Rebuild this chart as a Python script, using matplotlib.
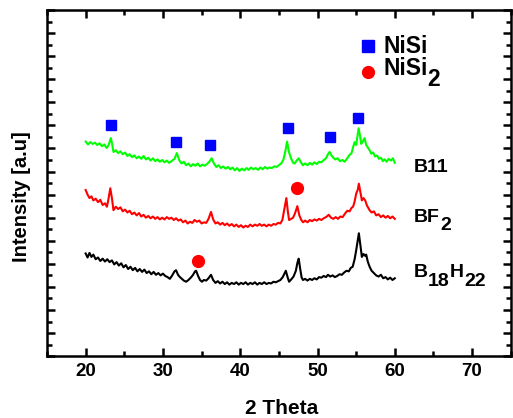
import matplotlib.pyplot as plt
from matplotlib import transforms
from matplotlib.ticker import MultipleLocator

plt.rcParams['font.family'] = ['Liberation Sans', 'DejaVu Sans']
plt.rcParams['font.weight'] = 'bold'

# 2 theta / intensity (arbitrary units)
b11_x = [20.0, 20.3, 20.6, 20.9, 21.2, 21.5, 21.8, 22.1, 22.4, 22.7, 22.95, 23.1, 23.26, 23.45,
         23.6, 23.9, 24.2, 24.5, 24.8, 25.1, 25.4, 25.7, 26.0, 26.3, 26.6, 26.9, 27.2, 27.5,
         27.8, 28.1, 28.4, 28.7, 29.0, 29.3, 29.6, 29.9, 30.2, 30.5, 30.8, 31.1, 31.5, 31.8,
         32.1, 32.4, 32.7, 33.0, 33.3, 33.6, 33.9, 34.2, 34.5, 34.8, 35.1, 35.4, 35.7, 36.0,
         36.3, 36.6, 36.9, 37.2, 37.5, 37.8, 38.1, 38.4, 38.7, 39.0, 39.3, 39.6, 39.9, 40.2,
         40.5, 40.8, 41.1, 41.4, 41.7, 42.0, 42.3, 42.6, 42.9, 43.2, 43.5, 43.8, 44.1, 44.4,
         44.7, 45.0, 45.3, 45.6, 45.85, 46.06, 46.3, 46.6, 46.85, 47.05, 47.3, 47.57, 47.85,
         48.1, 48.4, 48.7, 49.0, 49.3, 49.6, 49.9, 50.2, 50.5, 50.8, 51.1, 51.35, 51.57, 51.8,
         52.05, 52.3, 52.6, 52.9, 53.2, 53.5, 53.8, 54.1, 54.4, 54.6, 54.8, 55.0, 55.15, 55.32,
         55.5, 55.65, 55.85, 56.09, 56.3, 56.5, 56.74, 56.95, 57.2, 57.45, 57.7, 57.95, 58.2,
         58.45, 58.7, 58.95, 59.2, 59.5, 59.75, 60.0]
b11_y = [18.60, 18.35, 18.55, 18.40, 18.50, 18.30, 18.45, 18.20, 18.35, 18.05, 18.25, 18.55, 18.90, 18.30,
         17.70, 17.85, 17.60, 17.75, 17.50, 17.65, 17.35, 17.50, 17.25, 17.40, 17.15, 17.30, 17.10, 17.35,
         17.05, 17.20, 16.95, 17.15, 16.90, 17.05, 16.85, 17.00, 16.80, 16.95, 16.75, 16.90, 17.10, 17.60,
         17.00, 16.70, 16.85, 16.55, 16.70, 16.45, 16.65, 16.50, 16.70, 16.45, 16.60, 16.50, 16.65, 16.85,
         17.15, 16.70, 16.40, 16.55, 16.30, 16.45, 16.25, 16.40, 16.20, 16.35, 16.10, 16.30, 16.05, 16.25,
         16.10, 16.30, 16.15, 16.35, 16.20, 16.30, 16.15, 16.35, 16.20, 16.40, 16.25, 16.35, 16.30, 16.45,
         16.40, 16.55, 16.70, 17.05, 17.80, 18.60, 17.70, 17.10, 16.75, 16.70, 16.95, 17.15, 16.80,
         16.55, 16.70, 16.55, 16.75, 16.60, 16.80, 16.65, 16.85, 16.80, 17.00, 17.15, 17.50, 17.70, 17.40,
         17.20, 17.05, 17.15, 16.90, 17.00, 16.85, 17.10, 17.40, 17.60, 18.10, 18.55, 18.30, 19.00, 19.75,
         19.10, 18.40, 18.60, 18.90, 18.30, 18.10, 17.85, 17.55, 17.65, 17.30, 17.40, 17.10, 17.20,
         16.90, 17.05, 16.85, 17.10, 16.95, 17.15, 16.75]

bf2_x = [20.0, 20.25, 20.5, 20.75, 21.0, 21.3, 21.6, 21.9, 22.2, 22.5, 22.75, 22.95, 23.19, 23.4,
         23.6, 23.9, 24.2, 24.5, 24.8, 25.1, 25.4, 25.7, 26.0, 26.3, 26.6, 26.9, 27.2, 27.5,
         27.8, 28.1, 28.4, 28.7, 29.0, 29.3, 29.6, 29.9, 30.2, 30.5, 30.8, 31.1, 31.4, 31.7,
         32.0, 32.3, 32.6, 32.9, 33.2, 33.5, 33.8, 34.1, 34.4, 34.7, 35.0, 35.3, 35.6, 35.9,
         36.22, 36.5, 36.8, 37.1, 37.4, 37.7, 38.0, 38.3, 38.6, 38.9, 39.2, 39.5, 39.8, 40.1,
         40.4, 40.7, 41.0, 41.3, 41.6, 41.9, 42.2, 42.5, 42.8, 43.1, 43.4, 43.7, 44.0, 44.3,
         44.6, 44.9, 45.2, 45.45, 45.7, 45.97, 46.15, 46.32, 46.6, 46.84, 47.1, 47.39, 47.65,
         47.9, 48.13, 48.4, 48.7, 49.0, 49.3, 49.6, 49.9, 50.2, 50.5, 50.8, 51.1, 51.45, 51.75,
         52.05, 52.35, 52.65, 52.95, 53.25, 53.55, 53.85, 54.15, 54.4, 54.6, 54.8, 55.01, 55.2,
         55.35, 55.55, 55.74, 55.95, 56.17, 56.4, 56.74, 57.0, 57.3, 57.59, 57.9, 58.2, 58.5,
         58.8, 59.1, 59.4, 59.7, 60.0]
bf2_y = [14.40, 14.00, 13.70, 13.85, 13.50, 13.65, 13.35, 13.55, 13.10, 13.25, 12.95, 13.60, 14.55, 13.70,
         12.65, 12.95, 12.75, 12.90, 12.55, 12.70, 12.45, 12.60, 12.30, 12.45, 12.20, 12.40, 12.10, 12.25,
         12.00, 12.15, 11.95, 12.10, 11.90, 12.05, 11.85, 12.00, 11.85, 12.05, 11.90, 12.00, 11.80, 11.95,
         11.75, 11.85, 11.60, 11.75, 11.50, 11.65, 11.55, 11.80, 11.65, 11.75, 11.50, 11.60, 11.55, 11.90,
         12.50, 11.85, 11.50, 11.60, 11.40, 11.55, 11.35, 11.50, 11.30, 11.45, 11.25, 11.40, 11.20, 11.35,
         11.15, 11.30, 11.20, 11.40, 11.25, 11.40, 11.30, 11.45, 11.30, 11.40, 11.25, 11.40, 11.30, 11.45,
         11.40, 11.55, 11.50, 11.80, 12.70, 13.70, 12.60, 11.80, 11.90, 12.00, 12.40, 13.00, 12.20,
         11.80, 11.60, 11.75, 11.60, 11.80, 11.70, 11.85, 11.75, 11.90, 11.80, 11.95, 12.05, 12.25, 12.00,
         11.90, 12.05, 11.90, 12.10, 12.05, 12.35, 12.60, 12.55, 12.85, 12.95, 13.40, 14.10, 14.40,
         14.95, 14.20, 13.50, 13.70, 13.50, 13.05, 12.65, 12.45, 12.55, 12.20, 12.30, 12.05, 12.20,
         12.00, 12.15, 11.95, 12.10, 11.90]

b18_x = [20.0, 20.25, 20.5, 20.75, 21.0, 21.3, 21.6, 21.9, 22.2, 22.5, 22.8, 23.1, 23.4, 23.7,
         24.0, 24.3, 24.6, 24.9, 25.2, 25.5, 25.8, 26.1, 26.4, 26.7, 27.0, 27.3, 27.6, 27.9,
         28.2, 28.5, 28.8, 29.1, 29.4, 29.7, 30.0, 30.3, 30.6, 30.9, 31.2, 31.5, 31.7, 31.95,
         32.2, 32.45, 32.7, 33.0, 33.3, 33.6, 33.9, 34.15, 34.3, 34.55, 34.8, 35.05, 35.3, 35.6,
         35.9, 36.22, 36.5, 36.8, 37.1, 37.4, 37.7, 38.0, 38.3, 38.6, 38.9, 39.2, 39.5, 39.8,
         40.1, 40.4, 40.7, 41.0, 41.3, 41.6, 41.9, 42.2, 42.5, 42.8, 43.1, 43.4, 43.7, 44.0,
         44.3, 44.6, 44.9, 45.2, 45.5, 45.9, 46.15, 46.32, 46.6, 46.9, 47.2, 47.4, 47.57, 47.75,
         47.95, 48.13, 48.4, 48.7, 49.0, 49.3, 49.6, 49.9, 50.2, 50.5, 50.8, 51.1, 51.35, 51.65,
         51.95, 52.25, 52.55, 52.85, 53.15, 53.45, 53.75, 54.05, 54.3, 54.55, 54.8, 55.01, 55.2,
         55.35, 55.55, 55.74, 55.95, 56.15, 56.3, 56.5, 56.74, 57.0, 57.3, 57.59, 57.9, 58.2,
         58.5, 58.8, 59.1, 59.4, 59.7, 60.0]
b18_y = [8.90, 8.55, 8.95, 8.60, 8.80, 8.40, 8.55, 8.25, 8.45, 8.20, 8.40, 8.15, 8.30, 7.95,
         8.15, 7.85, 8.05, 7.70, 7.90, 7.55, 7.75, 7.45, 7.65, 7.35, 7.55, 7.30, 7.50, 7.20,
         7.35, 7.10, 7.30, 7.05, 7.20, 7.00, 7.15, 6.95, 6.85, 6.70, 7.00, 7.35, 7.45, 7.05,
         6.85, 6.70, 6.55, 6.45, 6.60, 6.80, 7.05, 7.35, 7.40, 6.95, 6.60, 6.45, 6.60, 6.55,
         6.75, 7.05, 6.60, 6.35, 6.50, 6.30, 6.45, 6.25, 6.40, 6.20, 6.35, 6.25, 6.40, 6.20,
         6.35, 6.25, 6.40, 6.20, 6.35, 6.25, 6.40, 6.20, 6.35, 6.25, 6.40, 6.25, 6.35, 6.30,
         6.45, 6.40, 6.50, 6.60, 6.85, 7.40, 6.80, 6.45, 6.65, 6.90, 7.40, 8.10, 8.45, 7.60,
         6.80, 6.60, 6.70, 6.55, 6.70, 6.60, 6.75, 6.65, 6.85, 6.80, 6.95, 6.85, 7.05, 6.90,
         7.00, 6.85, 6.95, 7.10, 7.05, 7.25, 7.40, 7.35, 7.65, 7.75, 8.40, 9.20, 10.00,
         10.65, 9.60, 8.60, 8.85, 8.70, 8.80, 8.20, 7.75, 7.40, 7.20, 7.00, 6.90, 7.05,
         6.75, 6.85, 6.65, 6.80, 6.60, 6.75]

nisi_x = [23.23, 31.74, 36.13, 46.19, 51.61, 55.23]
nisi_y = [20.03, 18.56, 18.30, 19.77, 18.99, 20.64]
nisi2_x = [47.35, 34.58]
nisi2_y = [14.57, 8.24]

fig = plt.figure(figsize=(5.13, 4.18), dpi=100)
ax = fig.add_axes([0.0916, 0.148, 0.904, 0.828])
renderer = fig.canvas.get_renderer()


def subtext(x, y, pieces, size, trans):
    # pieces: (text, drop in points); drawn one after the other on a baseline
    dx = 0
    for s, drop in pieces:
        t = ax.text(x, y, s, fontsize=size, fontweight='bold', va='baseline',
                    transform=transforms.offset_copy(trans, fig, x=dx, y=-drop * 100 / 72,
                                                     units='dots'))
        dx += t.get_window_extent(renderer).width


ax.plot(b11_x, b11_y, color='#00ff00', lw=1.5)
ax.plot(bf2_x, bf2_y, color='#ff0000', lw=1.5)
ax.plot(b18_x, b18_y, color='black', lw=1.5)

ax.plot(nisi_x, nisi_y, 's', color='#0000ff', ms=7, ls='none')
ax.plot(nisi2_x, nisi2_y, 'o', color='#ff0000', ms=8.5, ls='none')

subtext(62.5, 15.93, [('B11', 0)], 14, ax.transData)
subtext(62.5, 11.64, [('BF', 0), ('2', 6)], 14, ax.transData)
subtext(62.5, 6.88, [('B', 0), ('18', 7), ('H', 0), ('22', 7)], 14, ax.transData)

# legend
ax.plot(0.6925, 0.8965, 's', color='#0000ff', ms=8, transform=ax.transAxes)
ax.plot(0.6925, 0.8217, 'o', color='#ff0000', ms=8.5, transform=ax.transAxes)
subtext(0.7248, 0.8749, [('NiSi', 0)], 16.5, ax.transAxes)
subtext(0.7248, 0.8121, [('NiSi', 0), ('2', 8)], 16.5, ax.transAxes)

ax.set_xlim(15, 75)
ax.set_ylim(0, 30)
ax.xaxis.set_major_locator(MultipleLocator(10))
ax.xaxis.set_minor_locator(MultipleLocator(5))
ax.yaxis.set_major_locator(MultipleLocator(2))
ax.yaxis.set_minor_locator(MultipleLocator(1))
ax.tick_params(which='both', direction='in', top=True, right=True, width=1.8)
ax.tick_params(which='major', length=6)
ax.tick_params(which='minor', length=3.5)
ax.tick_params(axis='x', labelsize=13.5, pad=5)
ax.set_yticklabels([])
for lab in ax.get_xticklabels():
    lab.set_fontweight('bold')
for s in ax.spines.values():
    s.set_linewidth(1.8)

ax.set_xlabel('2 Theta', fontsize=15, fontweight='bold', va='top')
ax.xaxis.set_label_coords(0.506, -0.124)
ax.text(-0.054, 0.461, 'Intensity [a.u]', fontsize=14.5, fontweight='bold', rotation=90,
        ha='center', va='center', transform=ax.transAxes)

fig.savefig('out.png', dpi=100)
